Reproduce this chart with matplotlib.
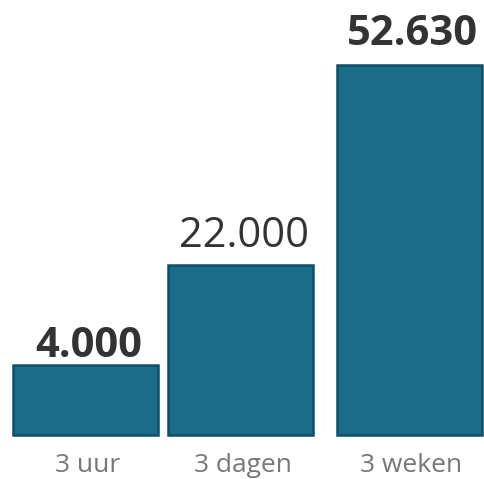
import matplotlib
matplotlib.use("Agg")
import matplotlib.pyplot as plt

# data (bar heights are drawn heights, not to scale with the labels)
categories = ["3 uur", "3 dagen", "3 weken"]
value_labels = ["4.000", "22.000", "52.630"]
bar_heights = [70, 170, 370]
label_bold = [True, False, True]

BAR_COLOR = "#1b6c89"
EDGE_COLOR = "#0f5068"

# layout in pixel units of the 484x479 canvas
bar_centers = [85.5, 240.8, 409.0]
bar_width = 145
bar_bottom = 44
label_gap = [8, 18, 20]

fig = plt.figure(figsize=(4.84, 4.79), dpi=100)
ax = fig.add_axes([0, 0, 1, 1])
ax.set_xlim(0, 484)
ax.set_ylim(0, 479)
ax.axis("off")

ax.bar(bar_centers, bar_heights, width=bar_width, bottom=bar_bottom,
       color=BAR_COLOR, edgecolor=EDGE_COLOR, linewidth=1.8)

for x, h, txt, bold, gap in zip(bar_centers, bar_heights, value_labels, label_bold, label_gap):
    ax.text(x + 3, bar_bottom + h + gap, txt, ha="center", va="baseline",
            fontsize=30, fontfamily="Open Sans",
            fontweight="bold" if bold else "normal", color="#333333")

for x, cat in zip(bar_centers, categories):
    ax.text(x + 2, 7, cat, ha="center", va="baseline",
            fontsize=19, fontfamily="Open Sans", color="#777777")

fig.savefig("out.png", dpi=100)
